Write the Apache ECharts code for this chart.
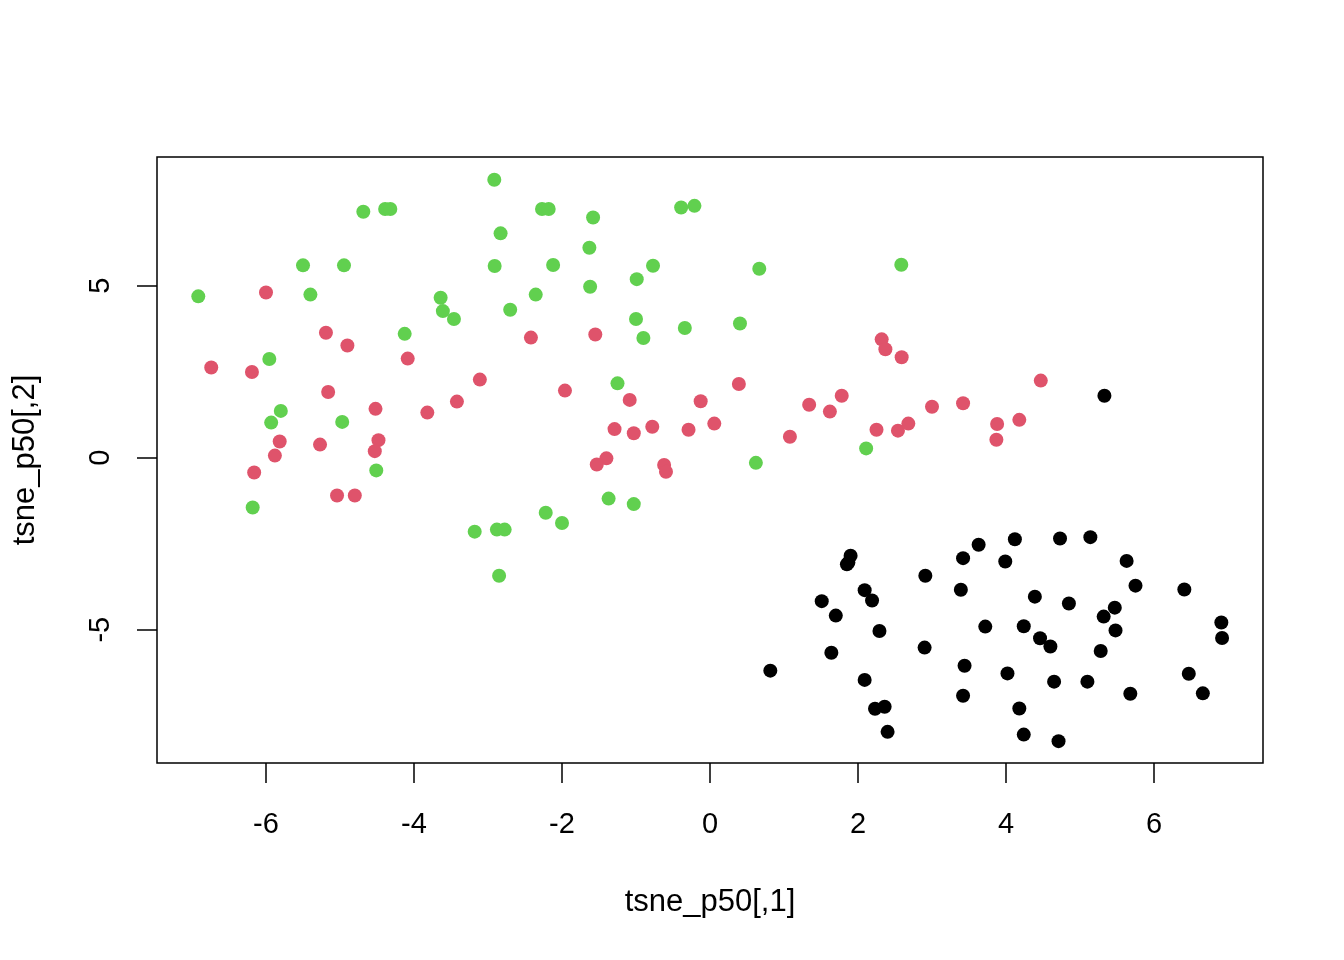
<!DOCTYPE html>
<html>
<head>
<meta charset="utf-8">
<script src="https://cdn.jsdelivr.net/npm/echarts@6/dist/echarts.min.js"></script>
<style>
html,body{margin:0;padding:0;background:#fff;}
#chart{width:1344px;height:960px;}
</style>
</head>
<body>
<div id="chart"></div>
<script>
// Group 1 (black)
var blackX = [1.90,1.85,2.09,2.19,1.51,1.70,2.29,1.64,0.815,2.09,2.23,2.36,2.40,
  3.63,4.12,4.73,5.14,3.42,3.99,5.63,2.91,3.39,5.75,6.41,4.39,4.85,5.47,5.32,5.48,6.91,6.92,
  3.72,4.24,4.46,4.60,5.28,2.90,3.44,4.02,4.65,5.10,6.47,3.42,5.68,6.66,4.18,4.24,4.71,5.33,1.87];
var blackY = [-2.85,-3.10,-3.85,-4.15,-4.17,-4.59,-5.04,-5.67,-6.19,-6.46,-7.30,-7.24,-7.97,
  -2.53,-2.37,-2.35,-2.31,-2.92,-3.02,-3.00,-3.43,-3.84,-3.72,-3.83,-4.04,-4.24,-4.36,-4.62,-5.02,-4.79,-5.24,
  -4.91,-4.90,-5.25,-5.49,-5.62,-5.52,-6.05,-6.27,-6.51,-6.51,-6.28,-6.92,-6.86,-6.85,-7.29,-8.05,-8.24,1.80,-3.05];
// Group 2 (red)
var redX = [-6.00,-5.19,-4.90,-2.42,-6.74,-6.19,-4.085,-3.11,-5.16,-4.52,-3.42,-3.82,-5.815,-5.27,-4.48,-4.53,-5.88,-6.16,-5.04,-4.80,
  -1.55,2.32,2.37,2.59,-1.96,0.39,-1.085,-0.126,1.78,1.34,1.62,-1.29,-1.03,-0.78,-0.29,0.058,1.08,2.25,2.54,2.68,
  -1.40,-1.53,-0.62,-0.595,3.00,3.42,4.47,3.88,3.87,4.18];
var redY = [4.80,3.63,3.26,3.49,2.62,2.49,2.88,2.27,1.91,1.42,1.63,1.31,0.47,0.38,0.51,0.19,0.06,-0.43,-1.10,-1.10,
  3.58,3.44,3.15,2.92,1.95,2.14,1.68,1.64,1.80,1.54,1.34,0.83,0.71,0.90,0.81,0.99,0.61,0.81,0.785,0.99,
  -0.02,-0.20,-0.21,-0.41,1.48,1.58,2.24,0.98,0.52,1.10];
// Group 3 (green)
var greenX = [-2.915,-4.685,-4.39,-4.32,-2.83,-5.50,-4.946,-2.91,-6.915,-5.40,-3.64,-3.61,-3.46,-2.70,-2.355,-4.126,-5.955,-5.80,-5.93,-4.97,
  -4.51,-6.18,-3.18,-2.88,-2.775,-2.85,-2.27,-2.18,-1.58,-0.39,-0.21,-1.63,-2.12,-0.77,-0.99,0.666,2.585,-1.62,-1.00,-0.34,
  0.405,-0.90,-1.25,2.11,0.62,-1.37,-1.03,-2.22,-2.00];
var greenY = [8.08,7.15,7.23,7.23,6.52,5.59,5.59,5.57,4.69,4.74,4.65,4.26,4.03,4.30,4.74,3.60,2.87,1.36,1.02,1.04,
  -0.37,-1.45,-2.15,-2.09,-2.09,-3.43,7.23,7.23,6.98,7.27,7.32,6.10,5.60,5.58,5.19,5.49,5.61,4.97,4.03,3.77,
  3.90,3.48,2.16,0.27,-0.15,-1.19,-1.35,-1.60,-1.90];

var xTicks = [-6,-4,-2,0,2,4,6];
var yTicks = [-5,0,5];
var xName = 'tsne_p50[,1]';
var yName = 'tsne_p50[,2]';

function zip(a,b){ var o=[]; for(var i=0;i<a.length;i++){o.push([a[i],b[i]]);} return o; }

var FONT = '"Liberation Sans", Arial, Helvetica, sans-serif';
var chart = echarts.init(document.getElementById('chart'), null, {renderer:'canvas'});
chart.setOption({
  animation:false,
  backgroundColor:'#ffffff',
  grid:{left:157, top:157, right:81, bottom:197, show:true, borderColor:'#000', borderWidth:1.5, backgroundColor:'transparent', containLabel:false},
  xAxis:{
    type:'value', min:-7.473, max:7.473, position:'bottom',
    splitLine:{show:false},
    axisLine:{show:false, onZero:false},
    axisTick:{show:true, inside:false, length:20, lineStyle:{color:'#000', width:1.5}, customValues:xTicks},
    axisLabel:{show:true, margin:47, fontSize:29, color:'#000', fontFamily:FONT, customValues:xTicks,
      formatter:function(v){return String(v);}},
    name:xName, nameLocation:'middle', nameGap:124,
    nameTextStyle:{fontSize:31, color:'#000', fontFamily:FONT}
  },
  yAxis:{
    type:'value', min:-8.875, max:8.74, position:'left',
    splitLine:{show:false},
    axisLine:{show:false, onZero:false},
    axisTick:{show:true, inside:false, length:20, lineStyle:{color:'#000', width:1.5}, customValues:yTicks},
    axisLabel:{show:true, margin:42, rotate:90, fontSize:29, color:'#000', fontFamily:FONT, customValues:yTicks,
      formatter:function(v){return String(v);}},
    name:yName, nameLocation:'middle', nameRotate:90, nameGap:116,
    nameTextStyle:{fontSize:31, color:'#000', fontFamily:FONT}
  },
  series:[
    {type:'scatter', data:zip(blackX,blackY), symbol:'circle', symbolSize:14, itemStyle:{color:'#000000', opacity:1}},
    {type:'scatter', data:zip(redX,redY), symbol:'circle', symbolSize:14, itemStyle:{color:'#DF536B', opacity:1}},
    {type:'scatter', data:zip(greenX,greenY), symbol:'circle', symbolSize:14, itemStyle:{color:'#61D04F', opacity:1}}
  ]
});
</script>
</body>
</html>
